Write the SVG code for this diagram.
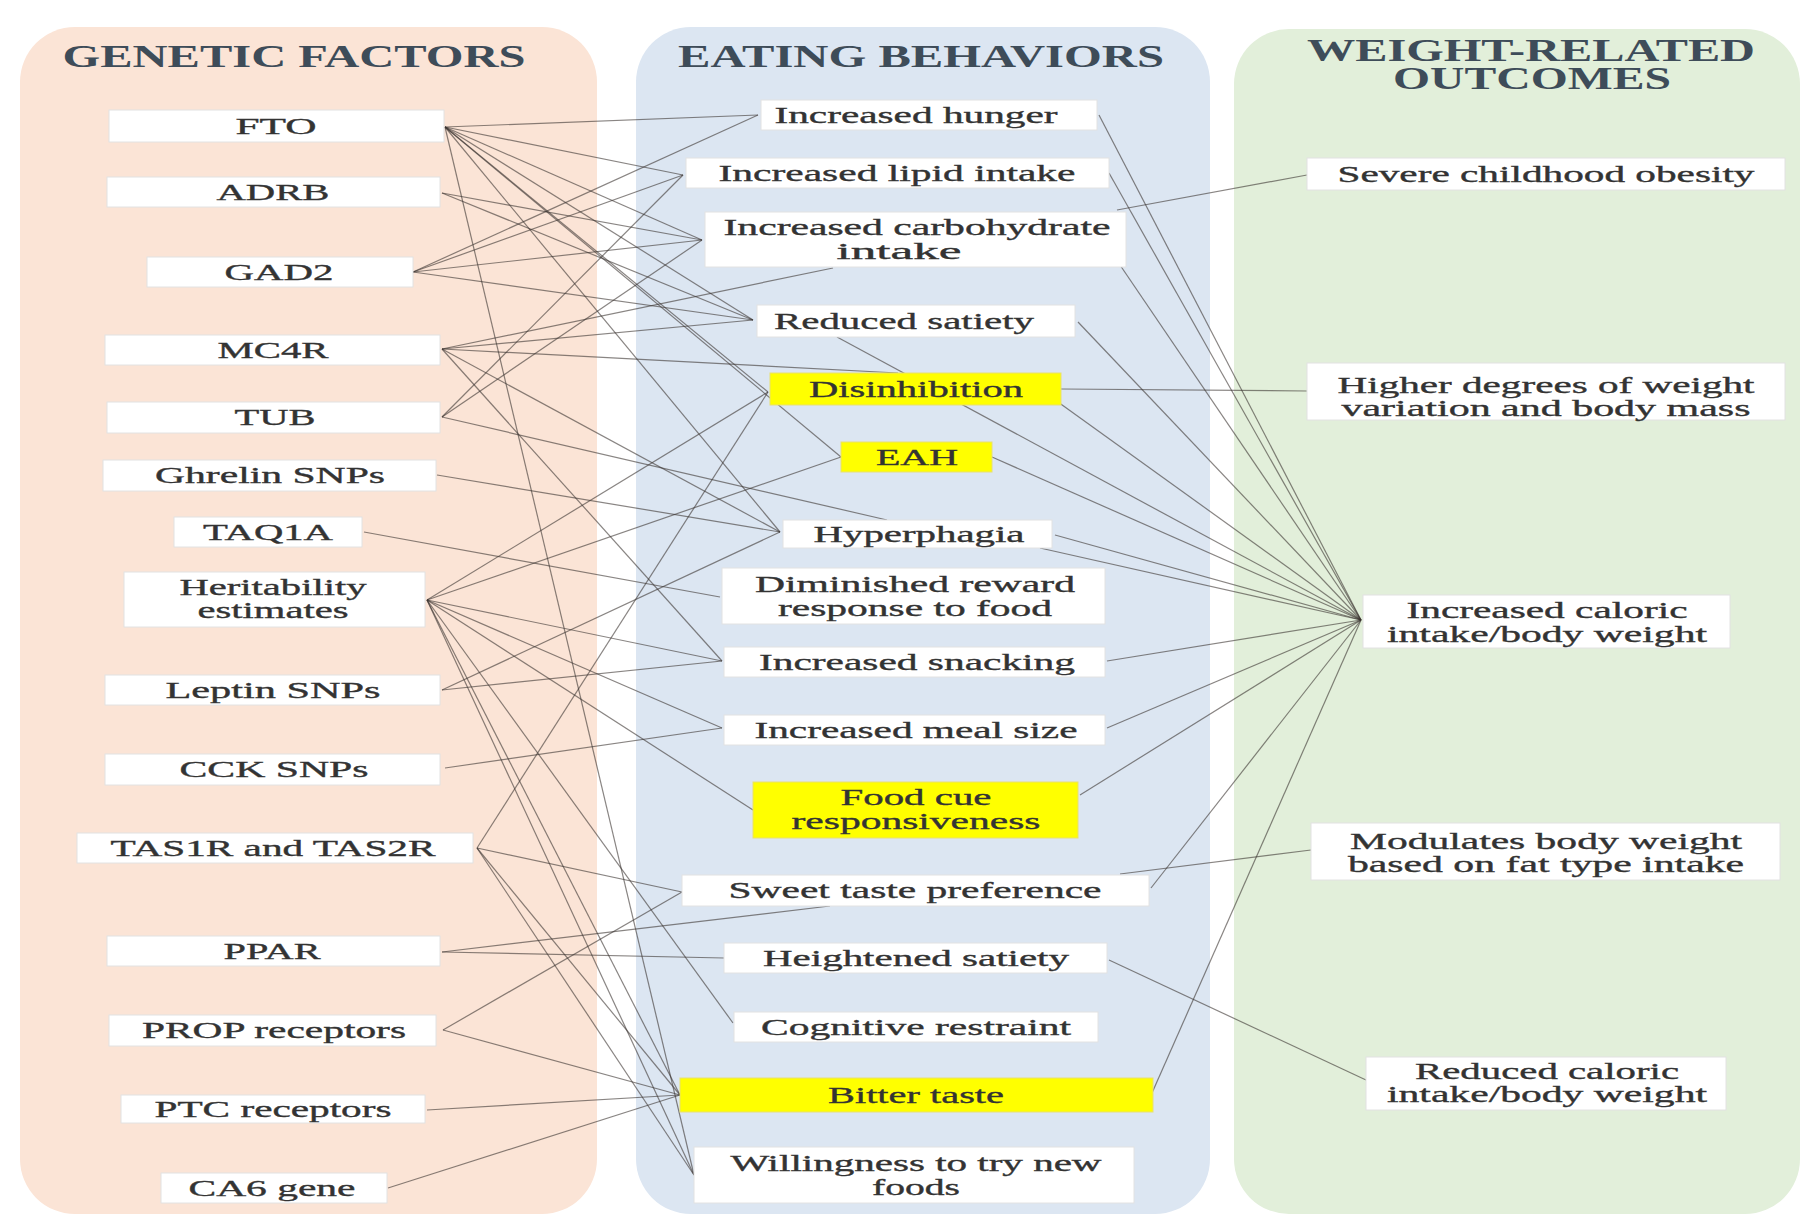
<svg xmlns="http://www.w3.org/2000/svg" width="1800" height="1216" viewBox="0 0 1800 1216">
<style>
.bg{fill:#ffffff}
.p1{fill:#fbe4d6}
.p2{fill:#dce6f2}
.p3{fill:#e2efda}
.box{fill:#ffffff;stroke:#e2e2e2;stroke-width:1}
.hl{fill:#ffff00;stroke:#e8e070;stroke-width:1}
.t{font-family:"Liberation Serif","Times New Roman",serif;font-size:23px;fill:#333333;stroke:#333333;stroke-width:0.35;text-anchor:middle}
.h{font-family:"Liberation Serif","Times New Roman",serif;font-size:31px;font-weight:bold;fill:#3e4c59;text-anchor:middle}
.c line{stroke:#3a3330;stroke-opacity:0.6;stroke-width:1.2}
</style>
<rect class="bg" x="0" y="0" width="1800" height="1216"/>
<g id="panels">
<rect id="panel-genetic" class="p1" x="20" y="27" width="577" height="1187" rx="55"/>
<rect id="panel-eating" class="p2" x="636" y="27" width="574" height="1187" rx="55"/>
<rect id="panel-weight" class="p3" x="1234" y="29" width="566" height="1185" rx="55"/>
</g>
<g id="headers">
<text class="h" x="294" y="67" textLength="463" lengthAdjust="spacingAndGlyphs">GENETIC FACTORS</text>
<text class="h" x="921" y="67" textLength="486" lengthAdjust="spacingAndGlyphs">EATING BEHAVIORS</text>
<text class="h" x="1531" y="61" textLength="448" lengthAdjust="spacingAndGlyphs">WEIGHT-RELATED</text>
<text class="h" x="1532" y="89" textLength="278" lengthAdjust="spacingAndGlyphs">OUTCOMES</text>
</g>
<g id="connectors" class="c">
<!-- FTO -->
<line x1="445" y1="127" x2="758" y2="115"/>
<line x1="445" y1="127" x2="683" y2="175"/>
<line x1="445" y1="127" x2="702" y2="240"/>
<line x1="445" y1="127" x2="753" y2="320"/>
<line x1="445" y1="127" x2="768" y2="392"/>
<line x1="445" y1="127" x2="841" y2="457"/>
<line x1="445" y1="127" x2="780" y2="532"/>
<line x1="445" y1="127" x2="694" y2="1175"/>
<!-- ADRB -->
<line x1="442" y1="193" x2="702" y2="240"/>
<line x1="442" y1="193" x2="753" y2="320"/>
<!-- GAD2 -->
<line x1="413" y1="272" x2="758" y2="115"/>
<line x1="413" y1="272" x2="683" y2="175"/>
<line x1="413" y1="272" x2="702" y2="240"/>
<line x1="413" y1="272" x2="753" y2="320"/>
<!-- MC4R -->
<line x1="442" y1="349" x2="833" y2="268"/>
<line x1="442" y1="349" x2="753" y2="320"/>
<line x1="442" y1="349" x2="898" y2="373"/>
<line x1="442" y1="349" x2="780" y2="532"/>
<line x1="442" y1="349" x2="722" y2="661"/>
<!-- TUB -->
<line x1="442" y1="417" x2="683" y2="175"/>
<line x1="442" y1="417" x2="702" y2="240"/>
<line x1="442" y1="417" x2="887" y2="520"/>
<!-- Ghrelin -->
<line x1="437" y1="475" x2="780" y2="532"/>
<!-- TAQ1A -->
<line x1="364" y1="532" x2="720" y2="597"/>
<!-- Heritability -->
<line x1="427" y1="600" x2="768" y2="392"/>
<line x1="427" y1="600" x2="841" y2="457"/>
<line x1="427" y1="600" x2="722" y2="661"/>
<line x1="427" y1="600" x2="722" y2="728"/>
<line x1="427" y1="600" x2="753" y2="810"/>
<line x1="427" y1="600" x2="733" y2="1023"/>
<line x1="427" y1="600" x2="680" y2="1095"/>
<line x1="427" y1="600" x2="694" y2="1175"/>
<!-- Leptin -->
<line x1="442" y1="690" x2="780" y2="532"/>
<line x1="442" y1="690" x2="722" y2="661"/>
<!-- CCK -->
<line x1="445" y1="768" x2="722" y2="728"/>
<!-- TAS1R -->
<line x1="477" y1="848" x2="768" y2="392"/>
<line x1="477" y1="848" x2="682" y2="892"/>
<line x1="477" y1="848" x2="680" y2="1095"/>
<line x1="477" y1="848" x2="694" y2="1175"/>
<!-- PPAR -->
<line x1="442" y1="952" x2="830" y2="906"/>
<line x1="442" y1="952" x2="724" y2="958"/>
<!-- PROP -->
<line x1="443" y1="1030" x2="682" y2="892"/>
<line x1="443" y1="1030" x2="680" y2="1095"/>
<!-- PTC, CA6 -->
<line x1="427" y1="1110" x2="680" y2="1095"/>
<line x1="388" y1="1188" x2="680" y2="1095"/>
<!-- behaviours to outcomes -->
<line x1="1099" y1="115" x2="1361" y2="620"/>
<line x1="1109" y1="173" x2="1361" y2="620"/>
<line x1="1120" y1="265" x2="1361" y2="620"/>
<line x1="1117" y1="210" x2="1307" y2="175"/>
<line x1="1078" y1="322" x2="1361" y2="620"/>
<line x1="837" y1="337" x2="1361" y2="620"/>
<line x1="1061" y1="389" x2="1307" y2="391"/>
<line x1="1058" y1="402" x2="1361" y2="620"/>
<line x1="992" y1="457" x2="1361" y2="620"/>
<line x1="1055" y1="535" x2="1361" y2="620"/>
<line x1="1040" y1="548" x2="1361" y2="620"/>
<line x1="1107" y1="661" x2="1361" y2="620"/>
<line x1="1107" y1="728" x2="1361" y2="620"/>
<line x1="1080" y1="795" x2="1361" y2="620"/>
<line x1="1151" y1="888" x2="1361" y2="620"/>
<line x1="1120" y1="874" x2="1311" y2="850"/>
<line x1="1109" y1="960" x2="1366" y2="1080"/>
<line x1="1152" y1="1093" x2="1361" y2="620"/>
</g>
<g id="genetic-nodes">
<g id="n-fto"><rect class="box" x="109" y="110" width="335" height="32"/><text class="t" x="276" y="134" textLength="81" lengthAdjust="spacingAndGlyphs">FTO</text></g>
<g id="n-adrb"><rect class="box" x="107" y="177" width="333" height="30"/><text class="t" x="273" y="200" textLength="113" lengthAdjust="spacingAndGlyphs">ADRB</text></g>
<g id="n-gad2"><rect class="box" x="147" y="257" width="266" height="30"/><text class="t" x="279" y="280" textLength="109" lengthAdjust="spacingAndGlyphs">GAD2</text></g>
<g id="n-mc4r"><rect class="box" x="105" y="335" width="335" height="30"/><text class="t" x="273" y="358" textLength="111" lengthAdjust="spacingAndGlyphs">MC4R</text></g>
<g id="n-tub"><rect class="box" x="107" y="402" width="333" height="31"/><text class="t" x="275" y="425" textLength="81" lengthAdjust="spacingAndGlyphs">TUB</text></g>
<g id="n-ghrelin"><rect class="box" x="103" y="460" width="333" height="31"/><text class="t" x="270" y="483" textLength="230" lengthAdjust="spacingAndGlyphs">Ghrelin SNPs</text></g>
<g id="n-taq1a"><rect class="box" x="174" y="517" width="188" height="30"/><text class="t" x="268" y="540" textLength="130" lengthAdjust="spacingAndGlyphs">TAQ1A</text></g>
<g id="n-herit"><rect class="box" x="124" y="572" width="301" height="55"/><text class="t" x="273" y="595" textLength="187" lengthAdjust="spacingAndGlyphs">Heritability</text><text class="t" x="273" y="618" textLength="151" lengthAdjust="spacingAndGlyphs">estimates</text></g>
<g id="n-leptin"><rect class="box" x="105" y="675" width="335" height="30"/><text class="t" x="273" y="698" textLength="215" lengthAdjust="spacingAndGlyphs">Leptin SNPs</text></g>
<g id="n-cck"><rect class="box" x="105" y="754" width="335" height="31"/><text class="t" x="274" y="777" textLength="189" lengthAdjust="spacingAndGlyphs">CCK SNPs</text></g>
<g id="n-tas"><rect class="box" x="77" y="833" width="396" height="30"/><text class="t" x="273" y="856" textLength="325" lengthAdjust="spacingAndGlyphs">TAS1R and TAS2R</text></g>
<g id="n-ppar"><rect class="box" x="107" y="936" width="333" height="30"/><text class="t" x="272" y="959" textLength="97" lengthAdjust="spacingAndGlyphs">PPAR</text></g>
<g id="n-prop"><rect class="box" x="109" y="1015" width="327" height="31"/><text class="t" x="274" y="1038" textLength="264" lengthAdjust="spacingAndGlyphs">PROP receptors</text></g>
<g id="n-ptc"><rect class="box" x="121" y="1095" width="304" height="28"/><text class="t" x="273" y="1117" textLength="237" lengthAdjust="spacingAndGlyphs">PTC receptors</text></g>
<g id="n-ca6"><rect class="box" x="161" y="1173" width="226" height="30"/><text class="t" x="272" y="1196" textLength="167" lengthAdjust="spacingAndGlyphs">CA6 gene</text></g>
</g>
<g id="behavior-nodes">
<g id="b-hunger"><rect class="box" x="761" y="100" width="336" height="30"/><text class="t" x="916" y="123" textLength="283" lengthAdjust="spacingAndGlyphs">Increased hunger</text></g>
<g id="b-lipid"><rect class="box" x="686" y="158" width="423" height="30"/><text class="t" x="897" y="181" textLength="357" lengthAdjust="spacingAndGlyphs">Increased lipid intake</text></g>
<g id="b-carb"><rect class="box" x="705" y="212" width="421" height="55"/><text class="t" x="917" y="235" textLength="387" lengthAdjust="spacingAndGlyphs">Increased carbohydrate</text><text class="t" x="899" y="259" textLength="125" lengthAdjust="spacingAndGlyphs">intake</text></g>
<g id="b-redsat"><rect class="box" x="757" y="305" width="318" height="32"/><text class="t" x="904" y="329" textLength="260" lengthAdjust="spacingAndGlyphs">Reduced satiety</text></g>
<g id="b-disinh"><rect class="hl" x="770" y="373" width="291" height="32"/><text class="t" x="916" y="397" textLength="214" lengthAdjust="spacingAndGlyphs">Disinhibition</text></g>
<g id="b-eah"><rect class="hl" x="841" y="442" width="151" height="30"/><text class="t" x="917" y="465" textLength="82" lengthAdjust="spacingAndGlyphs">EAH</text></g>
<g id="b-hyper"><rect class="box" x="783" y="520" width="269" height="28"/><text class="t" x="919" y="542" textLength="211" lengthAdjust="spacingAndGlyphs">Hyperphagia</text></g>
<g id="b-dimin"><rect class="box" x="722" y="568" width="383" height="56"/><text class="t" x="915" y="592" textLength="320" lengthAdjust="spacingAndGlyphs">Diminished reward</text><text class="t" x="915" y="616" textLength="274" lengthAdjust="spacingAndGlyphs">response to food</text></g>
<g id="b-snack"><rect class="box" x="724" y="647" width="381" height="30"/><text class="t" x="917" y="670" textLength="316" lengthAdjust="spacingAndGlyphs">Increased snacking</text></g>
<g id="b-meal"><rect class="box" x="724" y="715" width="381" height="30"/><text class="t" x="916" y="738" textLength="323" lengthAdjust="spacingAndGlyphs">Increased meal size</text></g>
<g id="b-foodcue"><rect class="hl" x="753" y="782" width="325" height="56"/><text class="t" x="916" y="805" textLength="151" lengthAdjust="spacingAndGlyphs">Food cue</text><text class="t" x="916" y="829" textLength="249" lengthAdjust="spacingAndGlyphs">responsiveness</text></g>
<g id="b-sweet"><rect class="box" x="682" y="875" width="467" height="31"/><text class="t" x="915" y="898" textLength="373" lengthAdjust="spacingAndGlyphs">Sweet taste preference</text></g>
<g id="b-heightsat"><rect class="box" x="724" y="943" width="383" height="30"/><text class="t" x="916" y="966" textLength="306" lengthAdjust="spacingAndGlyphs">Heightened satiety</text></g>
<g id="b-cog"><rect class="box" x="734" y="1012" width="364" height="30"/><text class="t" x="916" y="1035" textLength="310" lengthAdjust="spacingAndGlyphs">Cognitive restraint</text></g>
<g id="b-bitter"><rect class="hl" x="680" y="1078" width="473" height="34"/><text class="t" x="916" y="1103" textLength="176" lengthAdjust="spacingAndGlyphs">Bitter taste</text></g>
<g id="b-willing"><rect class="box" x="694" y="1147" width="440" height="56"/><text class="t" x="916" y="1171" textLength="371" lengthAdjust="spacingAndGlyphs">Willingness to try new</text><text class="t" x="916" y="1195" textLength="88" lengthAdjust="spacingAndGlyphs">foods</text></g>
</g>
<g id="outcome-nodes">
<g id="o-severe"><rect class="box" x="1307" y="158" width="478" height="32"/><text class="t" x="1546" y="182" textLength="417" lengthAdjust="spacingAndGlyphs">Severe childhood obesity</text></g>
<g id="o-higher"><rect class="box" x="1307" y="363" width="478" height="57"/><text class="t" x="1546" y="393" textLength="417" lengthAdjust="spacingAndGlyphs">Higher degrees of weight</text><text class="t" x="1546" y="416" textLength="409" lengthAdjust="spacingAndGlyphs">variation and body mass</text></g>
<g id="o-inccal"><rect class="box" x="1363" y="595" width="367" height="53"/><text class="t" x="1547" y="618" textLength="281" lengthAdjust="spacingAndGlyphs">Increased caloric</text><text class="t" x="1547" y="642" textLength="320" lengthAdjust="spacingAndGlyphs">intake/body weight</text></g>
<g id="o-modulates"><rect class="box" x="1311" y="823" width="469" height="57"/><text class="t" x="1546" y="849" textLength="392" lengthAdjust="spacingAndGlyphs">Modulates body weight</text><text class="t" x="1546" y="872" textLength="396" lengthAdjust="spacingAndGlyphs">based on fat type intake</text></g>
<g id="o-redcal"><rect class="box" x="1366" y="1057" width="360" height="53"/><text class="t" x="1547" y="1079" textLength="264" lengthAdjust="spacingAndGlyphs">Reduced caloric</text><text class="t" x="1547" y="1102" textLength="320" lengthAdjust="spacingAndGlyphs">intake/body weight</text></g>
</g>
</svg>
